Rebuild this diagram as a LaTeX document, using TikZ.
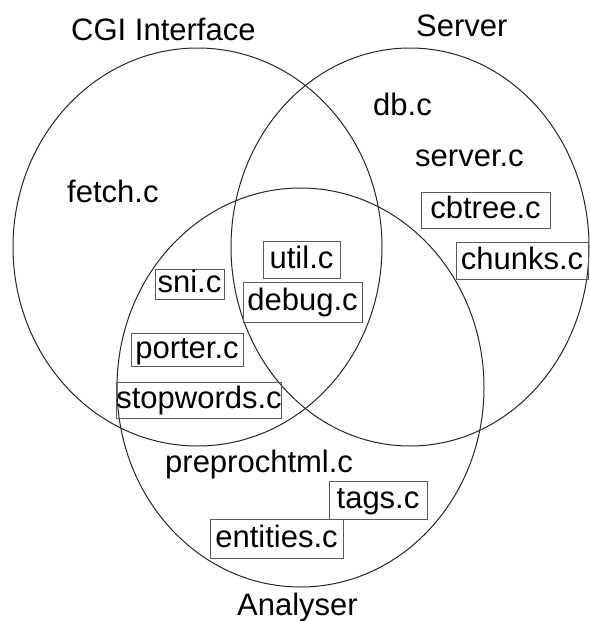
\documentclass[tikz,border=0pt]{standalone}
\usepackage{fontspec}
\setmainfont{Liberation Sans}
\begin{document}
\begin{tikzpicture}[x=1pt,y=-1pt,
  every node/.style={font=\fontsize{31pt}{36pt}\selectfont, inner sep=0pt, text height=23pt, text depth=6pt},
  setline/.style={draw=black!85, line width=1pt},
  filebox/.style={draw=black!65, line width=0.8pt, align=center},
  label/.style={anchor=base west}]
\useasboundingbox (0,0) rectangle (589,621);
% sets
\draw[setline] (197.5,247) ellipse [x radius=184.5pt, y radius=199pt];
\draw[setline] (410,247) ellipse [x radius=179pt, y radius=199pt];
\draw[setline] (300.5,387.5) ellipse [x radius=183.5pt, y radius=199.5pt];
% set titles
\node[label] (cgi) at (71,40) {CGI Interface};
\node[label] (srv) at (416,36) {Server};
\node[label] (ana) at (237,615) {Analyser};
% plain files
\node[label] (fetch) at (67,202) {fetch.c};
\node[label] (db) at (373,115) {db.c};
\node[label] (serverc) at (415,166) {server.c};
\node[label] (prep) at (165,472) {preprochtml.c};
% boxed files
\node[filebox, minimum width=77pt, minimum height=37pt] (util) at (301.5,259.5) {util.c};
\node[filebox, minimum width=119pt, minimum height=40pt] (debug) at (302.5,302) {debug.c};
\node[filebox, minimum width=69pt, minimum height=30pt] (sni) at (189.5,284) {sni.c};
\node[filebox, minimum width=112pt, minimum height=33pt] (porter) at (187,349.5) {porter.c};
\node[filebox, minimum width=156pt, minimum height=36pt] (stop) at (199,400) {stopwords.c};
\node[filebox, minimum width=129pt, minimum height=36pt] (cbtree) at (485.5,210) {cbtree.c};
\node[filebox, minimum width=132pt, minimum height=37pt] (chunks) at (522,260.5) {chunks.c};
\node[filebox, minimum width=98pt, minimum height=38pt] (tags) at (378,500) {tags.c};
\node[filebox, minimum width=133pt, minimum height=39pt] (ent) at (276.5,538.5) {entities.c};
\end{tikzpicture}
\end{document}
